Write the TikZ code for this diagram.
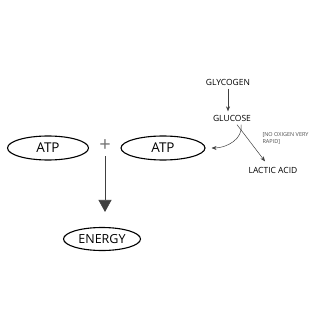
\documentclass[tikz,border=0pt]{standalone}
\usepackage{fontspec}
\setmainfont{Open Sans}
\usetikzlibrary{arrows.meta,shapes.geometric}

\begin{document}
\begin{tikzpicture}[x=1pt, y=-1pt,
  e/.style={draw, ellipse, line width=1.1pt, inner sep=0pt, minimum height=24pt, font=\fontsize{13.5}{15}\selectfont},
  t/.style={font=\fontsize{8.5}{10}\selectfont},
  a/.style={-{Stealth[length=5pt,width=4pt]}, draw=black!75, line width=0.5pt},
  big/.style={-{Triangle[length=12pt,width=13pt]}, draw=black!75, line width=0.6pt}
]
  \useasboundingbox (0,0) rectangle (320,320);
  \node[e, minimum width=81pt] (atp1) at (48,148) {ATP};
  \node[font=\fontsize{20}{20}\selectfont\color{black!55}] (plus) at (105,146) {+};
  \node[e, minimum width=84pt] (atp2) at (163,148) {ATP};
  \node[e, minimum width=77pt, minimum height=23pt, font=\fontsize{12.5}{14}\selectfont] (en) at (102,239) {ENERGY};
  \node[t] (gy) at (228,82) {GLYCOGEN};
  \node[t] (gl) at (232,118) {GLUCOSE};
  \node[t] (la) at (273,170) {LACTIC ACID};
  \node[font=\fontsize{5.5}{7}\selectfont\color{black!70}, align=left, anchor=west] (no) at (259,138) {[NO OXIGEN VERY\\ RAPID]};
  \draw[a] (gy) -- (gy |- gl.north);
  \draw[big] ([yshift=-1pt]plus.south) -- ([yshift=15pt]plus |- en.north);
  \draw[a] ([xshift=9pt]gl.south) to[out=-80, in=0] ([xshift=6pt]atp2.east);
  \draw[a] ([xshift=5pt]gl.south) -- ([xshift=-8pt,yshift=2pt]la.north);
\end{tikzpicture}
\end{document}
